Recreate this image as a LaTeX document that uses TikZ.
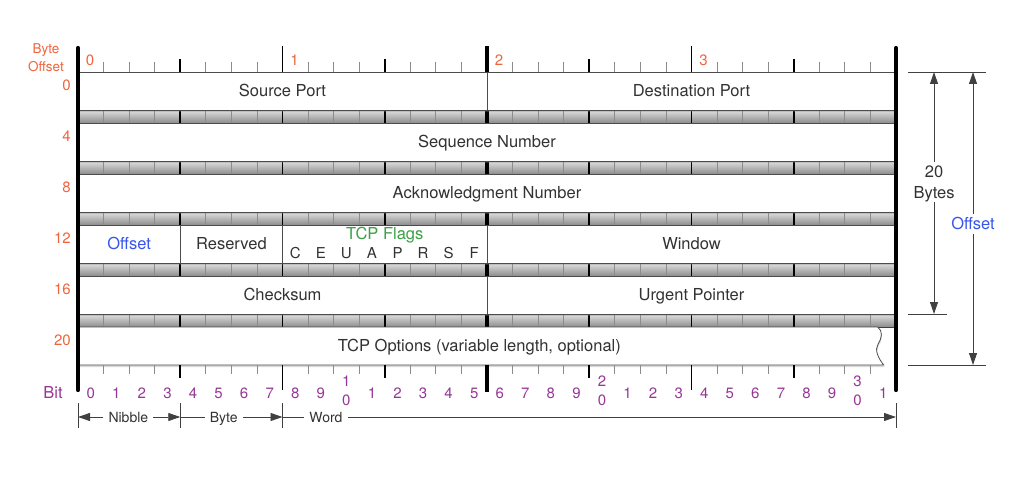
\documentclass[tikz,border=0pt]{standalone}
\usepackage{fontspec}
\setmainfont{TeX Gyre Heros}
\usetikzlibrary{arrows.meta, positioning, shadows}

\definecolor{offred}{RGB}{240,100,60}
\definecolor{bitpurple}{RGB}{150,55,150}
\definecolor{flaggreen}{RGB}{60,160,70}
\definecolor{offblue}{RGB}{55,85,235}
\definecolor{ink}{RGB}{50,50,50}

\tikzset{
	field/.style={draw=black!70, line width=0.8pt, fill=white, drop shadow={opacity=0.3, shadow xshift=0.5pt, shadow yshift=-2pt}},
	band/.style={draw=black!75, line width=0.9pt, top color=black!12, bottom color=black!45},
	lbl/.style={text=ink, font=\fontsize{16.5}{18}\selectfont, text height=11.8pt, text depth=0pt, inner sep=0pt},
	numtxt/.style={font=\fontsize{15}{16}\selectfont, text height=10.7pt, text depth=0pt, inner sep=0pt},
	smalltxt/.style={text=ink, font=\fontsize{14}{16}\selectfont, text height=10pt, text depth=0pt, inner xsep=5pt, inner ysep=0pt},
	bittick/.style={black!45, line width=0.8pt},
	nibtick/.style={black, line width=1.8pt},
	bytetick/.style={black, line width=1.6pt},
	midtick/.style={black, line width=3.5pt},
	dimline/.style={black!75, line width=0.9pt},
	dimarrow/.style={dimline, -{Triangle[length=12pt, width=8pt]}},
	sideline/.style={black, line width=4.2pt, line cap=round}
}

\begin{document}
\begin{tikzpicture}[x=1pt, y=-1pt]
	\useasboundingbox (0,0) rectangle (1014,478);
	\begin{scope}[xshift=78pt, x=25.5625pt]
		\foreach \row in {0,...,4} {
			\pgfmathsetmacro\yb{110+51*\row}
			\draw[band] (0,\yb) rectangle (32,\yb+13);
			\foreach \b in {1,...,31} {
				\pgfmathtruncatemacro\md{mod(\b,4)}
				\ifnum\md>0 \draw[bittick] (\b,\yb) -- (\b,\yb+13); \fi
			}
			\foreach \b in {4,8,12,20,24,28}
				\draw[nibtick] (\b,\yb) -- (\b,\yb+13);
			\draw[midtick] (16,\yb) -- (16,\yb+13);
		}
		\foreach \x/\y/\w in {0/72/16, 16/72/16, 0/123/32, 0/174/32, 0/225/4, 4/225/4, 8/225/8, 16/225/16, 0/276/16, 16/276/16}
			\draw[field] (\x,\y) rectangle ++(\w,38);
		\draw[field] (0,327) -- (31.28,327) .. controls (31.5,331) and (31.45,338) .. (31.3,344)
			.. controls (31.15,350) and (31.3,358) .. (31.52,365) -- (0,365) -- cycle;

		\foreach \b in {1,...,31} {
			\pgfmathtruncatemacro\md{mod(\b,4)}
			\ifnum\md>0
				\draw[bittick] (\b,62) -- (\b,72);
				\draw[bittick] (\b,365) -- (\b,374);
			\fi
		}
		\foreach \b in {4,12,20,28} {
			\draw[nibtick] (\b,59) -- (\b,72);
			\draw[nibtick] (\b,365) -- (\b,378);
		}
		\foreach \b in {8,24} {
			\draw[bytetick] (\b,46) -- (\b,72);
			\draw[bytetick] (\b,365) -- (\b,390);
		}
		\draw[midtick] (16,46) -- (16,72) (16,365) -- (16,392);
		\draw[sideline] (0,48) -- (0,390) (32,48) -- (32,390);

		\foreach \k in {0,...,3}
			\node[numtxt, text=offred, anchor=west] (byte\k) at (8*\k+0.3,60) {\k};
		\foreach \b in {0,...,31} {
			\pgfmathtruncatemacro\dig{mod(\b,10)}
			\pgfmathtruncatemacro\stk{\b>0 && \dig==0}
			\ifnum\stk=0
				\node[numtxt, text=bitpurple] (bit\b) at (\b+0.5,393) {\dig};
			\else
				\pgfmathtruncatemacro\tens{\b/10}
				\node[numtxt, text=bitpurple] (bit\b) at (\b+0.5,400) {0};
				\node[numtxt, text=bitpurple] (bitten\b) at (\b+0.5,381) {\tens};
			\fi
		}

		\node[lbl] (srcport) at (8,91) {Source Port};
		\node[lbl] (dstport) at (24,91) {Destination Port};
		\node[lbl] (seqnum) at (16,142) {Sequence Number};
		\node[lbl] (acknum) at (16,193) {Acknowledgment Number};
		\node[lbl, text=offblue] (dataoff) at (2,244) {Offset};
		\node[lbl] (reserved) at (6,244) {Reserved};
		\node[lbl, text=flaggreen] (flags) at (12,234) {TCP Flags};
		\foreach \flag [count=\i from 8] in {C,E,U,A,P,R,S,F}
			\node[numtxt, text=ink] (flag\flag) at (\i+0.5,253) {\flag};
		\node[lbl] (window) at (24,244) {Window};
		\node[lbl] (checksum) at (8,295) {Checksum};
		\node[lbl] (urgent) at (24,295) {Urgent Pointer};
		\node[lbl] (options) at (15.7,346) {TCP Options (variable length, optional)};

		\foreach \b in {0,4,8,32}
			\draw[dimline] (\b,403) -- (\b,428);
		\coordinate (nibL) at (0,417);
		\coordinate (nibR) at (4,417);
		\coordinate (byteR) at (8,417);
		\coordinate (wordR) at (32,417);
		\node[smalltxt] (nibble) at (1.97,417) {Nibble};
		\node[smalltxt] (bytetxt) at (5.7,417) {Byte};
		\node[smalltxt] (wordtxt) at (9.7,417) {Word};
		\draw[dimarrow] (nibble) -- (nibL);
		\draw[dimarrow] (nibble) -- (nibR);
		\draw[dimline] (nibR) -- (bytetxt);
		\draw[dimarrow] (bytetxt) -- (byteR);
		\draw[dimline] (byteR) -- (wordtxt);
		\draw[dimarrow] (wordtxt) -- (wordR);
	\end{scope}

	\node[numtxt, text=offred, font=\fontsize{13.5}{14}\selectfont, text height=9.7pt] (bytehdr) at (46,49) {Byte};
	\node[numtxt, text=offred, font=\fontsize{13.5}{14}\selectfont, text height=9.7pt, below=7.3pt of bytehdr] (offhdr) {Offset};
	\foreach \o [count=\i from 0] in {0,4,8,12,16,20}
		\node[numtxt, text=offred, anchor=east] (off\o) at (71,85+51*\i) {\o};
	\node[lbl, text=bitpurple] (bitlbl) at (53,393) {Bit};

	\draw[dimline] (908,72) -- (986,72) (908,314) -- (947,314) (908,365) -- (986,365);
	\coordinate (hdrTop) at (934,72);
	\coordinate (hdrBot) at (934,314);
	\coordinate (offTop) at (973,72);
	\coordinate (offBot) at (973,365);
	\node[lbl, inner ysep=4pt] (twenty) at (934,172) {20};
	\node[lbl, inner ysep=4pt, below=0pt of twenty] (bytes) {Bytes};
	\node[lbl, text=offblue, inner ysep=4pt] (offsize) at (973,224) {Offset};
	\draw[dimarrow] (twenty) -- (hdrTop);
	\draw[dimarrow] (bytes) -- (hdrBot);
	\draw[dimarrow] (offsize) -- (offTop);
	\draw[dimarrow] (offsize) -- (offBot);
\end{tikzpicture}
\end{document}
